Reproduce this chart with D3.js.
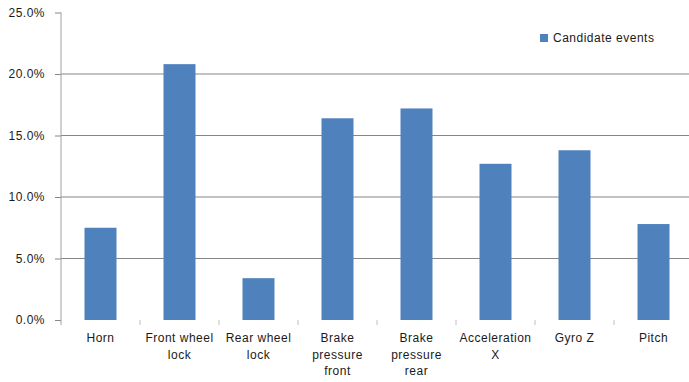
<!DOCTYPE html>
<html>
<head>
<meta charset="utf-8">
<script src="https://cdn.jsdelivr.net/npm/d3@7/dist/d3.min.js"></script>
<style>
  html, body { margin: 0; padding: 0; background: #fff; }
  svg { display: block; }
  text { font-family: "Liberation Sans", Arial, sans-serif; font-size: 12px; fill: #1a1a1a; letter-spacing: 0.5px; }
</style>
</head>
<body>
<svg id="chart" width="689" height="382"></svg>
<script>
// Share of candidate events per signal
const categories = ["Horn", "Front wheel lock", "Rear wheel lock", "Brake pressure front",
                    "Brake pressure rear", "Acceleration X", "Gyro Z", "Pitch"];
const candidateEvents = [0.075, 0.208, 0.034, 0.164, 0.172, 0.127, 0.138, 0.078];
const yTicks = [0, 0.05, 0.10, 0.15, 0.20, 0.25];
const seriesName = "Candidate events";

const svg = d3.select("#chart");
const plotLeft = 61, plotRight = 693, plotTop = 12.5, plotBottom = 320;

const x = d3.scaleBand().domain(categories).range([plotLeft, plotRight])
  .paddingInner(0.595).paddingOuter(0.2975);
const y = d3.scaleLinear().domain([0, 0.25]).range([plotBottom, plotTop]);
const fmt = d3.format(".1%");

// horizontal gridlines
svg.append("g").selectAll("line")
  .data(yTicks.filter(t => t > 0 && t < 0.25))
  .join("line")
  .attr("x1", plotLeft).attr("x2", 689)
  .attr("y1", d => y(d)).attr("y2", d => y(d))
  .attr("stroke", "#868686").attr("stroke-width", 1);

// y axis
const yAxis = svg.append("g").attr("transform", `translate(${plotLeft},0)`)
  .call(d3.axisLeft(y).tickValues(yTicks).tickFormat(fmt).tickSize(6).tickPadding(10));
yAxis.attr("font-size", null).attr("font-family", null);
yAxis.select(".domain").remove();
yAxis.selectAll(".tick line").attr("stroke", "#868686");
yAxis.selectAll(".tick text").attr("fill", "#1a1a1a");
svg.append("line").attr("x1", plotLeft).attr("x2", plotLeft).attr("y1", plotTop).attr("y2", plotBottom + 5)
  .attr("stroke", "#a0a0a0");

// bars
svg.append("g").selectAll("rect")
  .data(categories.map((c, i) => ({ c, v: candidateEvents[i] })))
  .join("rect")
  .attr("x", d => x(d.c))
  .attr("width", x.bandwidth())
  .attr("y", d => y(d.v))
  .attr("height", d => plotBottom - y(d.v))
  .attr("fill", "#4f81bd");

// category boundary ticks
const step = x.step();
svg.append("g").selectAll("line")
  .data(d3.range(1, categories.length))
  .join("line")
  .attr("x1", i => plotLeft + i * step).attr("x2", i => plotLeft + i * step)
  .attr("y1", plotBottom).attr("y2", plotBottom + 5)
  .attr("stroke", "#c0c0c0");

// wrapped category labels
const labels = svg.append("g").selectAll("text")
  .data(categories)
  .join("text")
  .attr("text-anchor", "middle")
  .attr("x", d => x(d) + x.bandwidth() / 2)
  .attr("y", 342);
labels.each(function (d) {
  const t = d3.select(this);
  const words = d.split(" ");
  const lines = [];
  let cur = [];
  const probe = t.append("tspan");
  words.forEach(w => {
    const test = cur.concat([w]).join(" ");
    probe.text(test);
    if (cur.length && probe.node().getComputedTextLength() > 76) {
      lines.push(cur.join(" "));
      cur = [w];
    } else {
      cur.push(w);
    }
  });
  lines.push(cur.join(" "));
  probe.remove();
  lines.forEach((l, i) => {
    t.append("tspan").attr("x", x(d) + x.bandwidth() / 2).attr("dy", i === 0 ? 0 : 16.7).text(l);
  });
});

// legend
const legend = svg.append("g").attr("transform", "translate(540,34)");
legend.append("rect").attr("width", 8).attr("height", 8).attr("fill", "#4f81bd");
legend.append("text").attr("x", 13).attr("y", 8).text(seriesName);
</script>
</body>
</html>
